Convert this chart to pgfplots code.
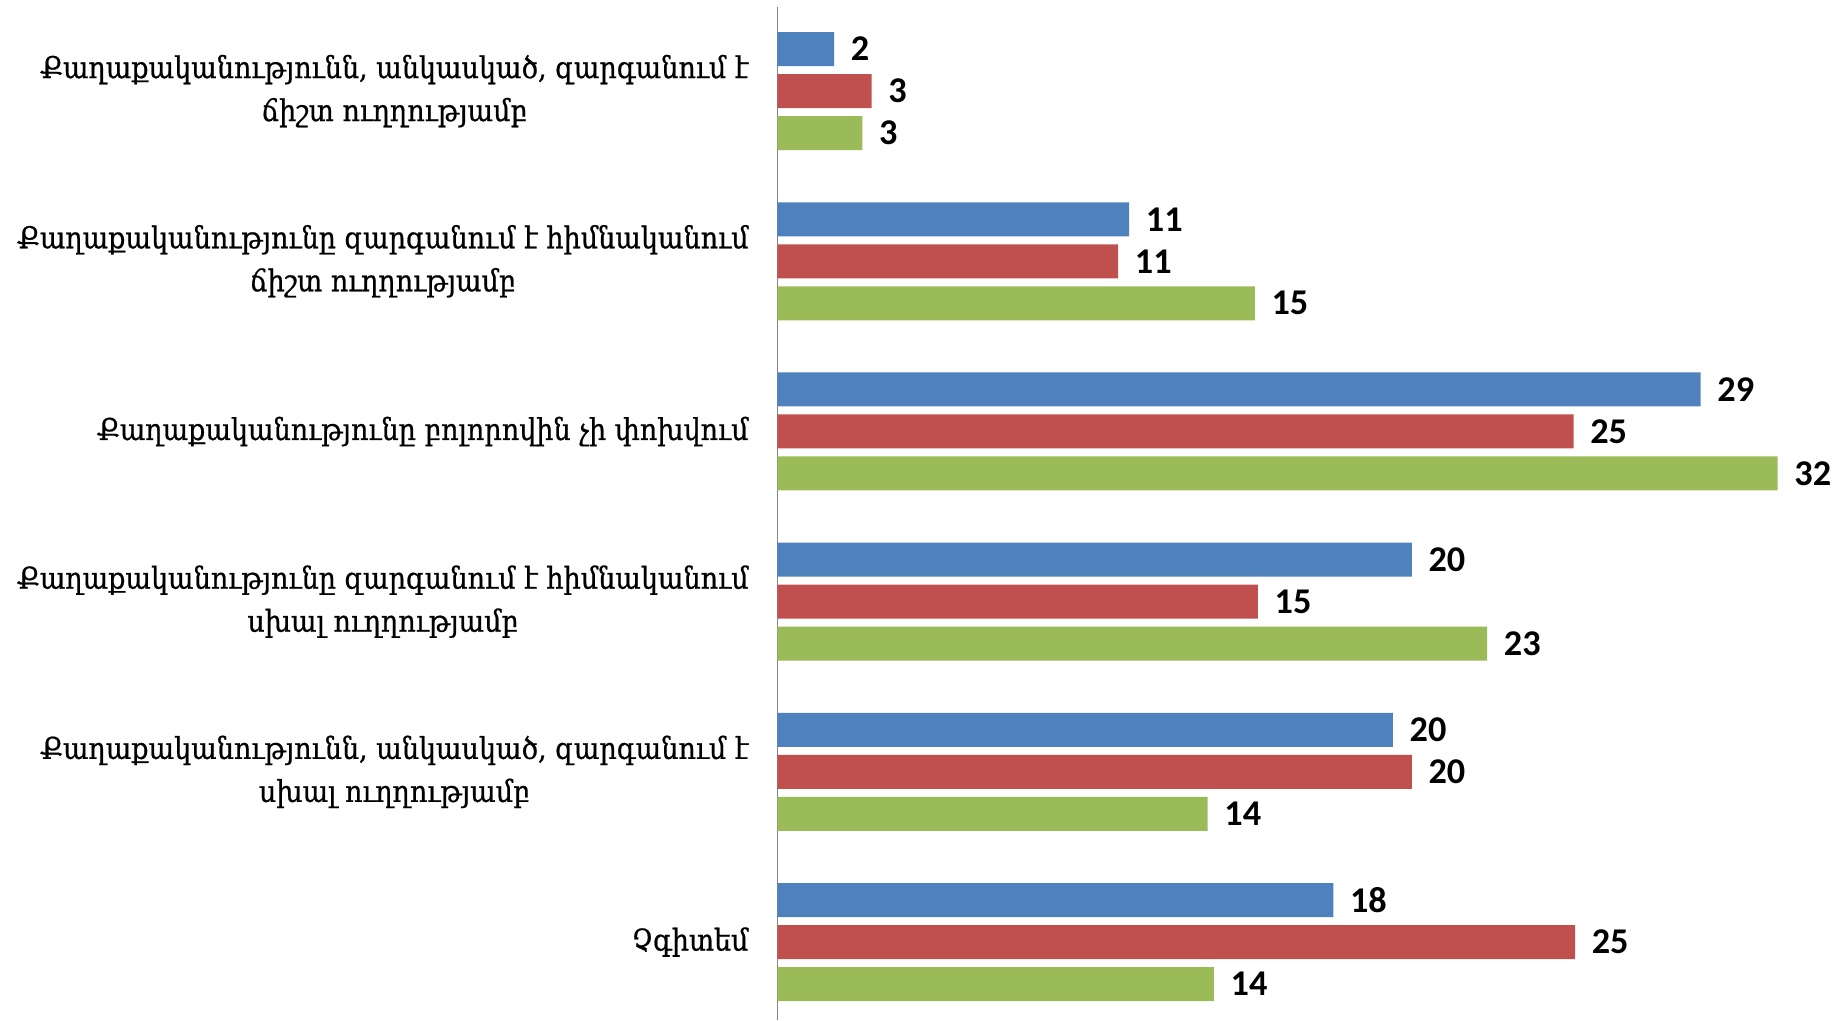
\documentclass[border=0pt]{standalone}
\usepackage{fontspec}
\usepackage{pgfplots}
\pgfplotsset{compat=1.18}
\newfontfamily\armfont[FakeBold=0.7]{DejaVu Serif Condensed}
\newfontfamily\numfont{Carlito}
\definecolor{cblue}{HTML}{4F81BD}
\definecolor{cred}{HTML}{C0504D}
\definecolor{cgreen}{HTML}{9BBB59}
\definecolor{caxis}{HTML}{868686}
\begin{document}
\begin{tikzpicture}
\begin{axis}[name=ax, scale only axis,
  width=414.5pt, height=405.2pt,
  xmin=0, xmax=33, ymin=-0.494, ymax=5.458, y dir=reverse,
  xbar, bar width=13.6pt, bar shift=0pt,
  axis x line=none, axis y line*=left,
  y axis line style={draw=caxis, line width=0.7pt},
  ytick={0,1,2,3,4,5}, major tick length=0pt,
  yticklabels={
    {Քաղաքականությունն, անկասկած, զարգանում է\\ճիշտ ուղղությամբ},
    {Քաղաքականությունը զարգանում է հիմնականում\\ճիշտ ուղղությամբ},
    {Քաղաքականությունը բոլորովին չի փոխվում},
    {Քաղաքականությունը զարգանում է հիմնականում\\սխալ ուղղությամբ},
    {Քաղաքականությունն, անկասկած, զարգանում է\\սխալ ուղղությամբ},
    {Չգիտեմ}},
  yticklabel style={align=center, anchor=east, inner sep=0pt, xshift=-11.4pt,
    font=\armfont\fontsize{12}{17.2}\selectfont},
  clip=false,
  point meta=explicit symbolic,
  nodes near coords,
  nodes near coords style={anchor=west, inner sep=0pt, xshift=6.5pt, text=black,
    font=\numfont\bfseries\fontsize{14.5}{14.5}\selectfont},
]
\addplot[fill=cblue, draw=none] coordinates {
  (1.8,-0.2468) [2] (11.2,0.7532) [11] (29.4,1.7532) [29]
  (20.2,2.7532) [20] (19.6,3.7532) [20] (17.7,4.7532) [18]};
\addplot[fill=cred, draw=none] coordinates {
  (3.0,0) [3] (10.85,1) [11] (25.35,2) [25]
  (15.3,3) [15] (20.2,4) [20] (25.4,5) [25]};
\addplot[fill=cgreen, draw=none] coordinates {
  (2.7,0.2468) [3] (15.2,1.2468) [15] (31.85,2.2468) [32]
  (22.6,3.2468) [23] (13.7,4.2468) [14] (13.9,5.2468) [14]};
\end{axis}
\pgfresetboundingbox
\path[use as bounding box] ([xshift=-311pt]ax.south west) rectangle ([xshift=8.5pt, yshift=2.8pt]ax.north east);
\end{tikzpicture}
\end{document}
